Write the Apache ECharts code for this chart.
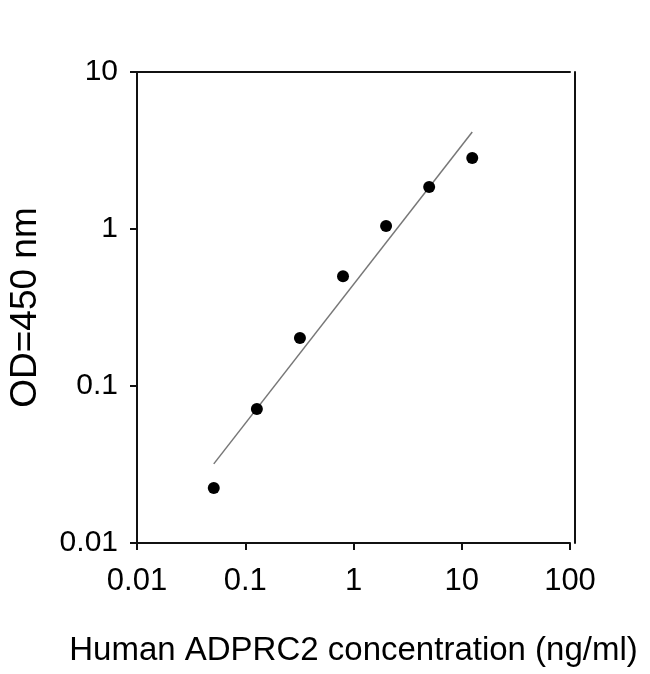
<!DOCTYPE html>
<html>
<head>
<meta charset="utf-8">
<script src="https://cdn.jsdelivr.net/npm/echarts@6/dist/echarts.min.js"></script>
<style>
  html, body { margin: 0; padding: 0; background: #fff; }
  #chart { width: 650px; height: 674px; }
</style>
</head>
<body>
<div id="chart"></div>
<script>
// standard curve points (ng/ml vs OD)
const concValues = [0.0512, 0.128, 0.32, 0.8, 2, 5, 12.5];
const odValues = [0.0224, 0.0713, 0.202, 0.50, 1.045, 1.85, 2.83];
// fitted line end points
const fitX = [0.0512, 12.5];
const fitY = [0.0319, 4.15];

const xTitle = 'Human ADPRC2 concentration (ng/ml)';
const yTitle = 'OD=450 nm';

const font = 'Liberation Sans, Arial, sans-serif';

const chart = echarts.init(document.getElementById('chart'));

let points = [];
for (let i = 0; i < concValues.length; i++) {
  points.push([concValues[i], odValues[i]]);
}
let fitLine = [];
for (let i = 0; i < fitX.length; i++) {
  fitLine.push([fitX[i], fitY[i]]);
}

const option = {
  animation: false,
  grid: {
    left: 137,
    right: 80,
    top: 72,
    bottom: 131,
    containLabel: false,
    outerBoundsMode: 'none'
  },
  xAxis: [
    {
      type: 'log',
      logBase: 10,
      min: 0.01,
      max: 100,
      name: xTitle,
      nameLocation: 'middle',
      nameGap: 91,
      nameTextStyle: { fontFamily: font, fontSize: 33, color: '#000' },
      axisLine: { lineStyle: { color: '#111', width: 2 } },
      axisTick: { show: true, length: 7, lineStyle: { color: '#111', width: 2 } },
      minorTick: { show: false },
      splitLine: { show: false },
      axisLabel: {
        fontFamily: font,
        fontSize: 31,
        color: '#000',
        margin: 23,
        formatter: function (v) { return String(+v.toPrecision(3)); }
      }
    },
    {
      type: 'log',
      position: 'top',
      min: 0.01,
      max: 100,
      axisLine: { lineStyle: { color: '#111', width: 2 } },
      axisTick: { show: false },
      axisLabel: { show: false },
      splitLine: { show: false }
    }
  ],
  yAxis: [
    {
      type: 'log',
      logBase: 10,
      min: 0.01,
      max: 10,
      name: yTitle,
      nameLocation: 'middle',
      nameGap: 93,
      nameTextStyle: { fontFamily: font, fontSize: 37, color: '#000' },
      axisLine: { lineStyle: { color: '#111', width: 2 } },
      axisTick: { show: true, length: 7, lineStyle: { color: '#111', width: 2 } },
      splitLine: { show: false },
      axisLabel: {
        fontFamily: font,
        fontSize: 30,
        color: '#000',
        margin: 19,
        formatter: function (v) { return String(+v.toPrecision(3)); }
      }
    },
    {
      type: 'log',
      position: 'right',
      offset: 5,
      min: 0.01,
      max: 10,
      axisLine: { lineStyle: { color: '#111', width: 2 } },
      axisTick: { show: false },
      axisLabel: { show: false },
      splitLine: { show: false }
    }
  ],
  series: [
    {
      type: 'line',
      data: fitLine,
      symbol: 'none',
      lineStyle: { color: '#777', width: 1.5 },
      z: 2
    },
    {
      type: 'scatter',
      data: points,
      symbol: 'circle',
      symbolSize: 12,
      itemStyle: { color: '#000', opacity: 1 },
      z: 3
    }
  ]
};

chart.setOption(option);
</script>
</body>
</html>
